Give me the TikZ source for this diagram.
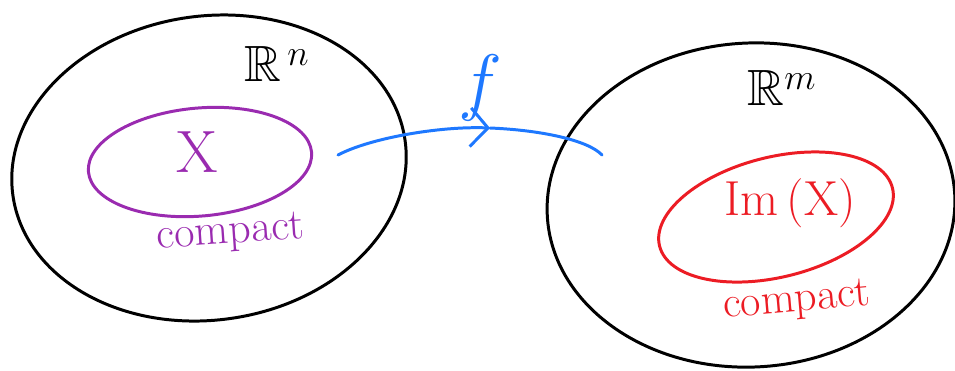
\documentclass[tikz,border=0pt]{standalone}
\usepackage{amsmath, amssymb}
\usetikzlibrary{arrows.meta, positioning}
\definecolor{penpurple}{HTML}{9A2BB0}
\definecolor{penred}{HTML}{EC1C24}
\definecolor{penblue}{HTML}{1E78FF}

\begin{document}
\begin{tikzpicture}[x=0.02cm,y=-0.02cm]

\tikzset{pen/.style = {line width=1.7pt, line cap=round, line join=round}}
\tikzset{word/.style = {inner sep=0pt, font=\fontsize{25}{30}\selectfont}}
\useasboundingbox (0,0) rectangle (955,370);

% spaces
\draw[pen, rotate around={8:(209,168)}] (209,168) ellipse [x radius=198, y radius=152];
\draw[pen, rotate around={3:(751,205)}] (751,205) ellipse [x radius=204, y radius=162];

% sets
\draw[pen, penpurple, rotate around={5:(200,162)}] (200,162) ellipse [x radius=112, y radius=54];
\draw[pen, penred, rotate around={14:(776,217)}] (776,217) ellipse [x radius=120, y radius=60];

% labels
\node[word, font=\fontsize{29}{34}\selectfont] (Rn) at (277,64) {$\mathbb{R}^{\,n}$};
\node[word, font=\fontsize{29}{34}\selectfont] (Rm) at (782,88) {$\mathbb{R}^{m}$};
\node[word, text=penpurple, font=\fontsize{34}{40}\selectfont] (X) at (197,152) {X};
\node[word, text=penpurple, rotate=4] (cX) at (231,234) {compact};
\node[word, text=penred, font=\fontsize{28}{33}\selectfont] (ImX) at (790,203) {Im\,(X)};
\node[word, text=penred, rotate=5] (cImX) at (797,302) {compact};

% map
\coordinate (fstart) at (338,155);
\coordinate (fmid) at (490,128);
\coordinate (fend) at (602,155);
\draw[pen, penblue, -{Straight Barb[length=10pt,width=22pt]}] (fstart) .. controls (370,138) and (440,126) .. (fmid);
\draw[pen, penblue] (fmid) .. controls (540,130) and (588,140) .. (fend);
\node[word, text=penblue, scale=1.7] (f) at (480,88) {$f$};

\end{tikzpicture}
\end{document}
